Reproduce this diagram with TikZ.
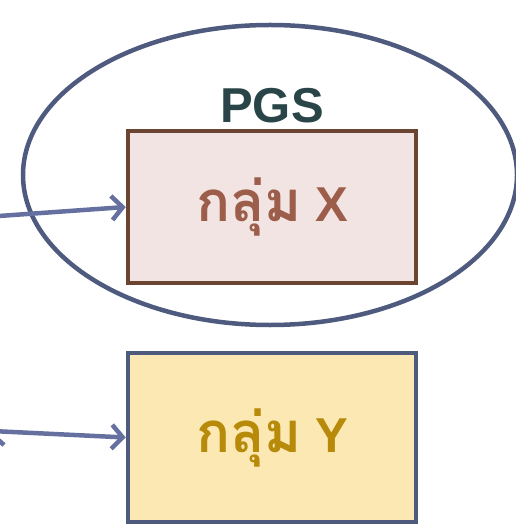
\documentclass[tikz,border=0pt]{standalone}
\usepackage{fontspec}
\setmainfont{Liberation Sans}
\newfontfamily\thaifont[Script=Thai,Scale=1.15]{Loma}
\usetikzlibrary{arrows.meta,shapes.geometric}
\definecolor{ringblue}{HTML}{4E5A7E}
\definecolor{arrowblue}{HTML}{6670A0}
\definecolor{pgsteal}{HTML}{2A4548}
\definecolor{xborder}{HTML}{6B4432}
\definecolor{xfill}{HTML}{F2E4E2}
\definecolor{xtext}{HTML}{9C5E4A}
\definecolor{yfill}{HTML}{FCE8B2}
\definecolor{ytext}{HTML}{B78A0A}

\begin{document}
\begin{tikzpicture}
		[x=1pt,y=-1pt,
		group/.style ={rectangle, line width=4.5pt, minimum width=288pt, align=center, inner sep=0pt, font=\fontsize{49}{54}\selectfont\bfseries},
		groupx/.style = {group, draw=xborder, fill=xfill, text=xtext, minimum height=152pt},
		groupy/.style = {group, draw=ringblue, fill=yfill, text=ytext, minimum height=169pt},
		ring/.style ={draw=ringblue, line width=4.5pt, ellipse, inner sep=0pt, minimum width=494pt, minimum height=300pt},
		feed/.style ={draw=arrowblue, line width=4.5pt, -{Straight Barb[length=11pt,width=24pt]}},
		]
		\useasboundingbox (0,0) rectangle (515,526);

		\node[ring] (PGSring) at (270,175) {};
		\node[font=\fontsize{49}{54}\selectfont\bfseries, text=pgsteal] (PGS) at (272,106) {PGS};

		\node[groupx] (GroupX) at (272,207) {{\thaifont กลุ่ม} X};
		\node[groupy] (GroupY) at (272,437.5) {{\thaifont กลุ่ม} Y};

		% incoming arrows start just off the left edge
		\coordinate (inX) at (-8,216.5);
		\coordinate (inY) at (-8,431);

		\path[feed]
		(inX) edge (GroupX.west)
		(inY) edge (GroupY.west);
	\end{tikzpicture}
\end{document}
